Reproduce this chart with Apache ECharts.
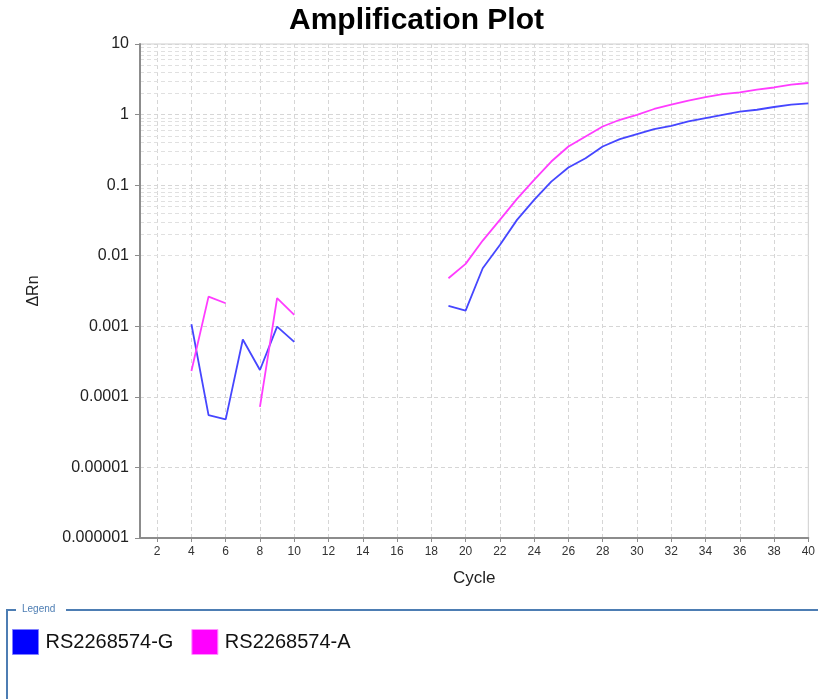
<!DOCTYPE html>
<html>
<head>
<meta charset="utf-8">
<script src="https://cdn.jsdelivr.net/npm/echarts@6/dist/echarts.min.js"></script>
<style>
html,body{margin:0;padding:0;background:#fff;}
#chart{width:818px;height:699px;}
</style>
</head>
<body>
<div id="chart"></div>
<script>
// ---- data ----
const cycles = ['1','2','3','4','5','6','7','8','9','10','11','12','13','14','15','16','17','18','19','20',
                '21','22','23','24','25','26','27','28','29','30','31','32','33','34','35','36','37','38','39','40'];
const seriesNames = ['RS2268574-G', 'RS2268574-A'];
// ΔRn values per cycle (null = no point)
const valuesG = [null, null, null, 0.00107, 0.000055, 0.000048, 0.00065, 0.00024, 0.00099, 0.00060,
                 null, null, null, null, null, null, null, null, 0.00194, 0.00167,
                 0.00665, 0.0142, 0.0322, 0.0618, 0.112, 0.178, 0.24, 0.353, 0.449, 0.529,
                 0.622, 0.693, 0.798, 0.891, 0.993, 1.10, 1.17, 1.28, 1.38, 1.44];
const valuesA = [null, null, null, 0.000232, 0.00263, 0.00212, null, 0.000072, 0.0025, 0.00145,
                 null, null, null, null, null, null, null, null, 0.0048, 0.00766,
                 0.0164, 0.0322, 0.064, 0.119, 0.216, 0.353, 0.489, 0.678, 0.844, 0.993,
                 1.20, 1.38, 1.58, 1.77, 1.95, 2.06, 2.25, 2.42, 2.65, 2.80];
const yTickLabels = ['0.000001', '0.00001', '0.0001', '0.001', '0.01', '0.1', '1', '10'];
const yMin = 0.000001, yMax = 10;
const minorMultipliers = [2, 3, 4, 5, 6, 7, 8, 9];

// minor log grid line values (2..9 in each decade)
const minorLines = [];
for (let e = -6; e <= 0; e++) {
  minorMultipliers.forEach(k => minorLines.push({ yAxis: k * Math.pow(10, e) }));
}

const FONT = '"Liberation Sans", Arial, sans-serif';
const evenCycle = (idx, val) => Number(cycles[idx]) % 2 === 0;
const gridDash = { color: '#d6d6d6', type: [4, 3], width: 1 };
const frameColor = '#4d7db3';

const chart = echarts.init(document.getElementById('chart'), null, { renderer: 'canvas' });
chart.setOption({
  backgroundColor: '#ffffff',
  animation: false,
  title: {
    text: 'Amplification Plot',
    left: 284,
    top: 1,
    textStyle: { fontFamily: FONT, fontSize: 30, fontWeight: 'bold', color: '#000' }
  },
  grid: {
    left: 140, right: 6, top: 44, bottom: 161,
    show: true, borderColor: '#cfcfcf', borderWidth: 1, backgroundColor: '#fff'
  },
  legend: {
    left: 7, top: 624,
    icon: 'rect',
    itemWidth: 26, itemHeight: 25, itemGap: 18,
    textStyle: { fontFamily: FONT, fontSize: 20, color: '#111', padding: [0, 0, 0, 2] },
    data: [
      { name: seriesNames[0], itemStyle: { color: '#0000ff', borderColor: '#8080ff', borderWidth: 1 } },
      { name: seriesNames[1], itemStyle: { color: '#ff00ff', borderColor: '#ff90ff', borderWidth: 1 } }
    ]
  },
  xAxis: {
    type: 'category',
    data: cycles,
    boundaryGap: false,
    name: 'Cycle',
    nameLocation: 'middle',
    nameGap: 32,
    nameTextStyle: { fontFamily: FONT, fontSize: 17, color: '#222' },
    axisLine: { lineStyle: { color: '#8c8c8c', width: 2 } },
    axisTick: { show: true, interval: evenCycle, length: 4, lineStyle: { color: '#8c8c8c' } },
    axisLabel: { interval: evenCycle, fontFamily: FONT, fontSize: 12, color: '#333', margin: 8 },
    splitLine: { show: true, interval: evenCycle, lineStyle: gridDash }
  },
  yAxis: {
    type: 'log',
    logBase: 10,
    min: yMin, max: yMax,
    splitNumber: 7,
    name: 'ΔRn',
    nameLocation: 'middle',
    nameRotate: 90,
    nameGap: 98,
    nameTextStyle: { fontFamily: FONT, fontSize: 16, color: '#222' },
    axisLine: { show: true, lineStyle: { color: '#8c8c8c', width: 2 } },
    axisTick: { show: true, length: 5, lineStyle: { color: '#8c8c8c' } },
    axisLabel: {
      fontFamily: FONT, fontSize: 16, color: '#222', margin: 11,
      formatter: v => yTickLabels[Math.round(Math.log10(v) - Math.log10(yMin))] || ''
    },
    splitLine: { show: true, lineStyle: gridDash }
  },
  series: [
    {
      name: 'minor-grid',
      type: 'line',
      data: [],
      silent: true,
      z: 0,
      markLine: {
        silent: true,
        z: 0,
        symbol: ['none', 'none'],
        label: { show: false },
        lineStyle: { color: '#e0e0e0', type: [4, 3], width: 1 },
        data: minorLines
      }
    },
    {
      name: seriesNames[0],
      type: 'line',
      data: valuesG,
      showSymbol: false,
      connectNulls: false,
      z: 6,
      itemStyle: { color: '#0000ff' },
      lineStyle: { color: '#4646ff', width: 1.8 }
    },
    {
      name: seriesNames[1],
      type: 'line',
      data: valuesA,
      showSymbol: false,
      connectNulls: false,
      z: 6,
      itemStyle: { color: '#ff00ff' },
      lineStyle: { color: '#ff3cff', width: 1.8 }
    }
  ],
  graphic: [
    { type: 'line', shape: { x1: 7, y1: 610, x2: 16, y2: 610 }, style: { stroke: frameColor, lineWidth: 2 } },
    { type: 'line', shape: { x1: 66, y1: 610, x2: 818, y2: 610 }, style: { stroke: frameColor, lineWidth: 2 } },
    { type: 'line', shape: { x1: 7, y1: 609, x2: 7, y2: 699 }, style: { stroke: frameColor, lineWidth: 2 } },
    { type: 'text', left: 22, top: 604, style: { text: 'Legend', font: '10px ' + FONT, fill: '#4d7db3' } }
  ]
});
</script>
</body>
</html>
